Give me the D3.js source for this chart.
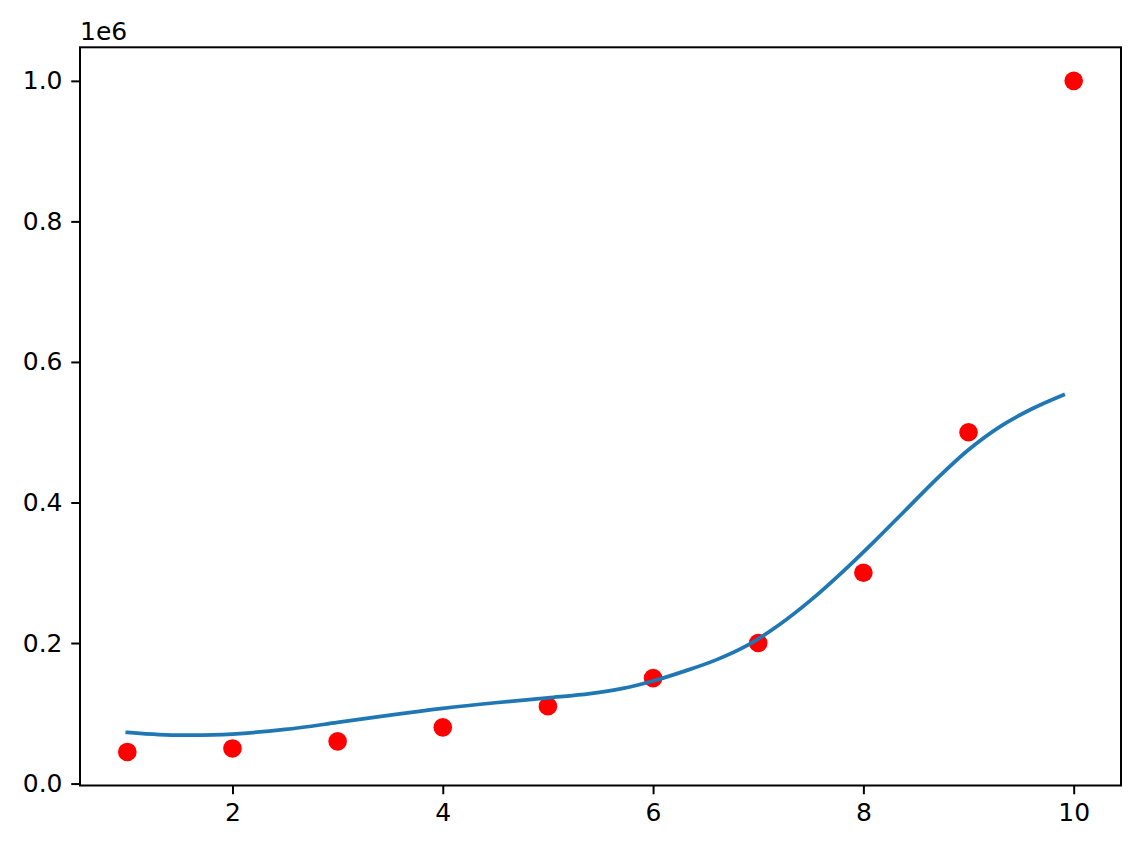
<!DOCTYPE html>
<html>
<head>
<meta charset="utf-8">
<script src="https://cdn.jsdelivr.net/npm/d3@7"></script>
<style>
  html, body { margin: 0; padding: 0; background: #ffffff; }
  svg { display: block; }
  text { font-family: "DejaVu Sans", sans-serif; fill: #000; }
</style>
</head>
<body>
<svg id="chart" width="1141" height="850"></svg>
<script>
// Observed data (position level vs salary)
const levels = [1, 2, 3, 4, 5, 6, 7, 8, 9, 10];
const salaries = [45000, 50000, 60000, 80000, 110000, 150000, 200000, 300000, 500000, 1000000];

// Fitted curve
const curveX = [1.0, 1.3, 1.6, 2.0, 2.5, 3.0, 3.5, 4.0, 4.5, 5.0, 5.4, 5.7, 6.0, 6.3, 6.6, 6.9, 7.2, 7.5, 7.8, 8.1, 8.4, 8.7, 9.0, 9.3, 9.6, 9.9];
const curveY = [72700, 69600, 68800, 70500, 77000, 87000, 97500, 107000, 115000, 122000, 128000, 135000, 146000, 160000, 176000, 197000, 226000, 261000, 301000, 344000, 389000, 434000, 475000, 508000, 533000, 553000];

// Axis ticks
const xTicks = [2, 4, 6, 8, 10];
const yTicks = [0, 200000, 400000, 600000, 800000, 1000000];
const yTickLabels = ["0.0", "0.2", "0.4", "0.6", "0.8", "1.0"];
const offsetLabel = "1e6";

const svg = d3.select("#chart");
const plotLeft = 80, plotRight = 1121, plotTop = 47.3, plotBottom = 785.5;

const x = d3.scaleLinear().domain([0.55, 10.45]).range([plotLeft, plotRight]);
const y = d3.scaleLinear().domain([-2750, 1047750]).range([plotBottom, plotTop]);

const fontSize = 25;
const tickLen = 8.75;

// Scatter points
svg.append("g").selectAll("circle")
  .data(levels.map((l, i) => [l, salaries[i]]))
  .join("circle")
  .attr("cx", d => x(d[0]))
  .attr("cy", d => y(d[1]))
  .attr("r", 9.3)
  .attr("fill", "#ff0000");

// Fitted line
const line = d3.line()
  .x(d => x(d[0]))
  .y(d => y(d[1]))
  .curve(d3.curveCatmullRom.alpha(0.5));

svg.append("path")
  .datum(curveX.map((v, i) => [v, curveY[i]]))
  .attr("d", line)
  .attr("fill", "none")
  .attr("stroke", "#1f77b4")
  .attr("stroke-width", 3.75)
  .attr("stroke-linecap", "square");

// Axes
const xAxis = d3.axisBottom(x).tickValues(xTicks).tickFormat(d3.format("d"))
  .tickSize(tickLen).tickPadding(8.75);
const yAxis = d3.axisLeft(y).tickValues(yTicks)
  .tickFormat((d, i) => yTickLabels[i]).tickSize(tickLen).tickPadding(8.75);

const gx = svg.append("g").attr("transform", `translate(0,${plotBottom})`).call(xAxis);
const gy = svg.append("g").attr("transform", `translate(${plotLeft},0)`).call(yAxis);
[gx, gy].forEach(g => {
  g.select(".domain").remove();
  g.selectAll(".tick line").attr("stroke", "#000").attr("stroke-width", 2);
  g.selectAll(".tick text")
    .attr("font-family", "DejaVu Sans, sans-serif")
    .attr("font-size", fontSize)
    .attr("fill", "#000");
});

// Frame
svg.append("rect")
  .attr("x", plotLeft).attr("y", plotTop)
  .attr("width", plotRight - plotLeft).attr("height", plotBottom - plotTop)
  .attr("fill", "none").attr("stroke", "#000").attr("stroke-width", 2);

// Offset label
svg.append("text")
  .attr("x", plotLeft).attr("y", 39.5)
  .attr("font-size", fontSize)
  .text(offsetLabel);
</script>
</body>
</html>
